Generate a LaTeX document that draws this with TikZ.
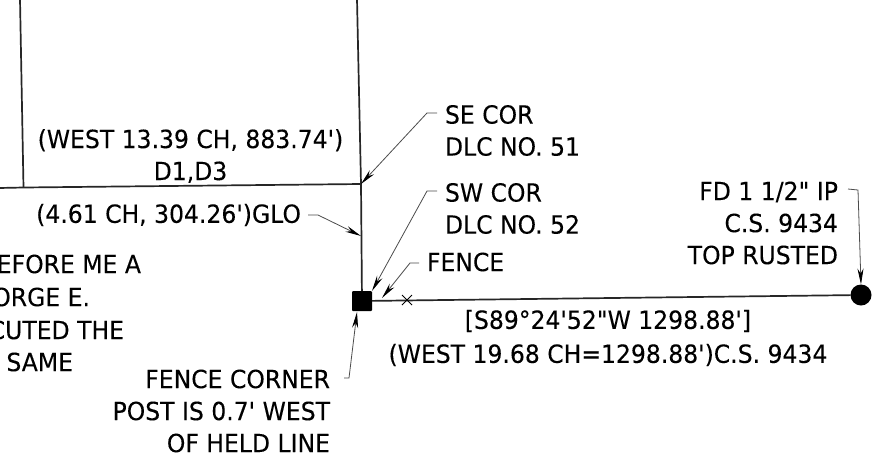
\documentclass[tikz,border=0pt]{standalone}
\usepackage{fontspec}
\newfontfamily\drawfont[FakeStretch=0.94,FakeBold=0.15]{DejaVu Sans}
\usetikzlibrary{arrows.meta}
\tikzset{
  every node/.style={inner sep=0pt,outer sep=0pt,font=\drawfont\fontsize{25}{32}\selectfont},
  lab/.style={anchor=west,align=left},
  labr/.style={anchor=east,align=right},
  labc/.style={align=center},
  bound/.style={line width=1.7pt,black!85},
  leader/.style={line width=0.8pt,black!70,-{Stealth[length=16pt,width=6pt,black]}},
}
\begin{document}
\begin{tikzpicture}[x=1pt,y=-1pt]
\useasboundingbox[fill=white] (0,0) rectangle (876,459);
\clip (0,0) rectangle (876,459);
% corners
\coordinate (tl) at (20,-1);
\coordinate (tr) at (357,-1);
\coordinate (le) at (-1,188);
\coordinate (jl) at (23.5,187.5);
\coordinate (se) at (361,184);
\node[fill=black,minimum size=20pt,rounded corners=1pt] (sq) at (362,301) {};
\node[circle,fill=black,minimum size=21pt] (ip) at (861,295) {};
\draw[bound] (tl) -- (jl);
\draw[bound] (tr) -- (se) -- (sq);
\draw[bound] (le) -- (jl) -- (se);
\draw[bound] (sq) -- (ip);
\coordinate (x) at (407,300);
\draw[line width=0.8pt] (x) ++(-5,-5) -- ++(10,10) ++(-10,0) -- ++(10,-10);
% labels
\node[labc] (t1) at (190.5,156) {(WEST 13.39 CH, 883.74')\\D1,D3};
\node[labr] (t2) at (301,215) {(4.61 CH, 304.26')GLO};
\node[lab] (t3) at (445,130.5) {SE COR\\DLC NO. 51};
\node[lab] (t4) at (445,208.5) {SW COR\\DLC NO. 52};
\node[lab] (t5) at (427,262) {FENCE};
\node[labr] (t6) at (838,223) {FD 1 1/2" IP\\C.S. 9434\\TOP RUSTED};
\node[labc] (t7) at (608,338) {[S89°24'52"W 1298.88']\\[2pt](WEST 19.68 CH=1298.88')C.S. 9434};
\node[labr] (t8) at (330,411) {FENCE CORNER\\POST IS 0.7' WEST\\OF HELD LINE};
\node[labr] (t9a) at (141,264) {EFORE ME A};
\node[labr] (t9b) at (90,297) {ORGE E.};
\node[labr] (t9c) at (124,330) {CUTED THE};
\node[labr] (t9d) at (73,362) {E SAME};
% leaders
\coordinate (a3) at (437,113);
\coordinate (a4) at (437,191);
\coordinate (a5) at (419,263);
\coordinate (a2) at (308,215);
\coordinate (a6) at (848,189);
\coordinate (a8) at (344,378);
\draw[leader] (a3) -- (427,113) -- (se);
\draw[leader] (a4) -- (427,191) -- (sq.north east);
\draw[leader] (a5) -- (410,263) -- (382,298);
\draw[leader] (a2) -- (318,215) -- (361,236);
\draw[leader] (a6) -- (858,190) -- (ip.north);
\draw[leader] (a8) -- (349,378) -- (357,312);
\end{tikzpicture}
\end{document}
